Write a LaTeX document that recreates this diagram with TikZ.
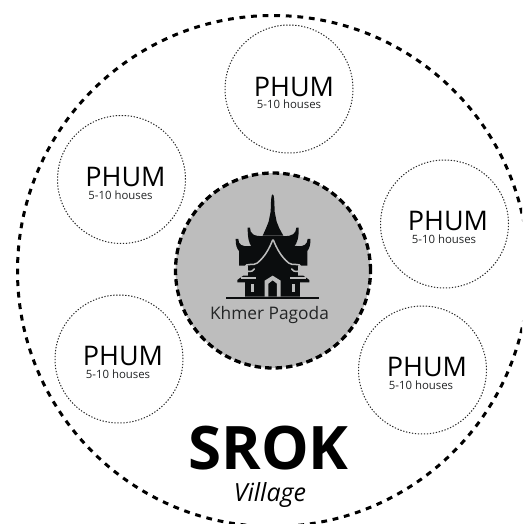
\documentclass[tikz,border=0pt]{standalone}
\usepackage{fontspec}
\setmainfont{Open Sans}
\definecolor{ink}{HTML}{0B0D0E}
\definecolor{hub}{HTML}{BDBDBD}
\tikzset{
  outerring/.style={circle,draw=black,line width=3pt,dash pattern=on 5.8pt off 5.8pt,minimum size=511pt,inner sep=0pt},
  hubring/.style={circle,draw=black,fill=hub,line width=3.3pt,dash pattern=on 6.5pt off 4pt,minimum size=195pt,inner sep=0pt},
  phumring/.style={circle,draw=black!85,line width=1pt,dash pattern=on 1.3pt off 1.7pt,minimum size=128pt,inner sep=0pt},
  phumtitle/.style={font=\fontsize{27}{27}\selectfont,inner sep=0pt,anchor=base},
  phumsub/.style={font=\fontsize{11.4}{11.4}\selectfont,inner sep=0pt,anchor=base,text=ink!90},
}
\begin{document}
\begin{tikzpicture}[x=1pt,y=-1pt]
\useasboundingbox (0,0) rectangle (522,524);
\begin{scope}
\clip (0,0) rectangle (522,524);
\node[outerring] (srokring) at (273,271) {};
\end{scope}
\node[hubring] (hubcircle) at (273,270.5) {};
\node[phumring] (p1) at (289,89) {};
\node[phumring] (p2) at (121.5,179.5) {};
\node[phumring] (p3) at (444.5,224) {};
\node[phumring] (p4) at (422.5,370) {};
\node[phumring] (p5) at (119,359) {};
\node[phumtitle] (t1) at (294,97) {PHUM};
\node[phumsub] (s1) at (289,108.5) {5-10 houses};
\node[phumtitle] (t2) at (125.5,186) {PHUM};
\node[phumsub] (s2) at (120.5,199) {5-10 houses};
\node[phumtitle] (t3) at (448,230) {PHUM};
\node[phumsub] (s3) at (444,243) {5-10 houses};
\node[phumtitle] (t4) at (427,376) {PHUM};
\node[phumsub] (s4) at (421,389) {5-10 houses};
\node[phumtitle] (t5) at (123,365) {PHUM};
\node[phumsub] (s5) at (118,378) {5-10 houses};
\node[inner sep=0pt,anchor=base,font=\fontsize{17.3}{17.3}\selectfont,text=ink!90] (pagodalabel) at (269.5,319) {Khmer Pagoda};
\node[inner sep=0pt,anchor=base,font=\bfseries\fontsize{60}{60}\selectfont] (srok) at (268.5,469) {SROK};
\node[inner sep=0pt,anchor=base,font=\itshape\fontsize{25}{25}\selectfont] (village) at (270,501) {Village};
% pagoda, in crop coordinates
\begin{scope}[shift={(220,185)},x=0.3333pt,y=-0.3333pt]
% spire
\fill[ink] (158,28) .. controls (153,28) and (153,50) .. (152,80) -- (146,110) -- (138,130) -- (128,152) -- (190,152) -- (178,130) -- (170,110) -- (164,80) .. controls (163,50) and (163,28) .. (158,28) -- cycle;
% upper roof
\fill[ink] (83,128) -- (90,128) .. controls (90,145) and (100,155) .. (130,153) -- (190,153) .. controls (218,155) and (228,145) .. (229,128) -- (236,128) .. controls (237,155) and (232,175) .. (222,185) -- (95,185) .. controls (86,175) and (83,155) .. (83,128) -- cycle;
% main roof and wall
\fill[ink] (47,162) -- (55,162) .. controls (55,178) and (65,186) .. (90,183) -- (230,183) .. controls (252,186) and (262,178) .. (263,162) -- (271,162) .. controls (272,180) and (268,190) .. (262,198) -- (262,242) -- (57,242) -- (57,198) .. controls (50,190) and (47,180) .. (47,162) -- cycle;
% lower storey
\fill[ink] (85,240) rectangle (235,275);
\fill[ink] (52,292) -- (52,285) -- (70,272) -- (250,272) -- (268,285) -- (268,292) -- (240,292) -- (240,335) -- (75,335) -- (75,292) -- cycle;
\fill[ink] (18,335) rectangle (298,343);
% white roof lines
\draw[hub,line width=1.5pt,line cap=round] (158,165) .. controls (148,190) and (135,215) .. (112,234) .. controls (100,244) and (78,232) .. (75,246) .. controls (72,262) and (98,264) .. (103,252);
\draw[hub,line width=1.5pt,line cap=round] (160,165) .. controls (170,190) and (183,215) .. (206,234) .. controls (218,244) and (240,232) .. (243,246) .. controls (246,262) and (220,264) .. (215,252);
% door
\fill[hub] (134,335) -- (134,287) -- (158,272) -- (182,287) -- (182,335) -- (171,335) -- (171,296) -- (158,286) -- (145,296) -- (145,335) -- cycle;
% windows
\fill[hub] (93,296) rectangle (101,320);
\fill[hub] (217,296) rectangle (225,320);
\fill[hub] (62,277) rectangle (108,281);
\fill[hub] (210,277) rectangle (258,281);
\end{scope}
\end{tikzpicture}
\end{document}
